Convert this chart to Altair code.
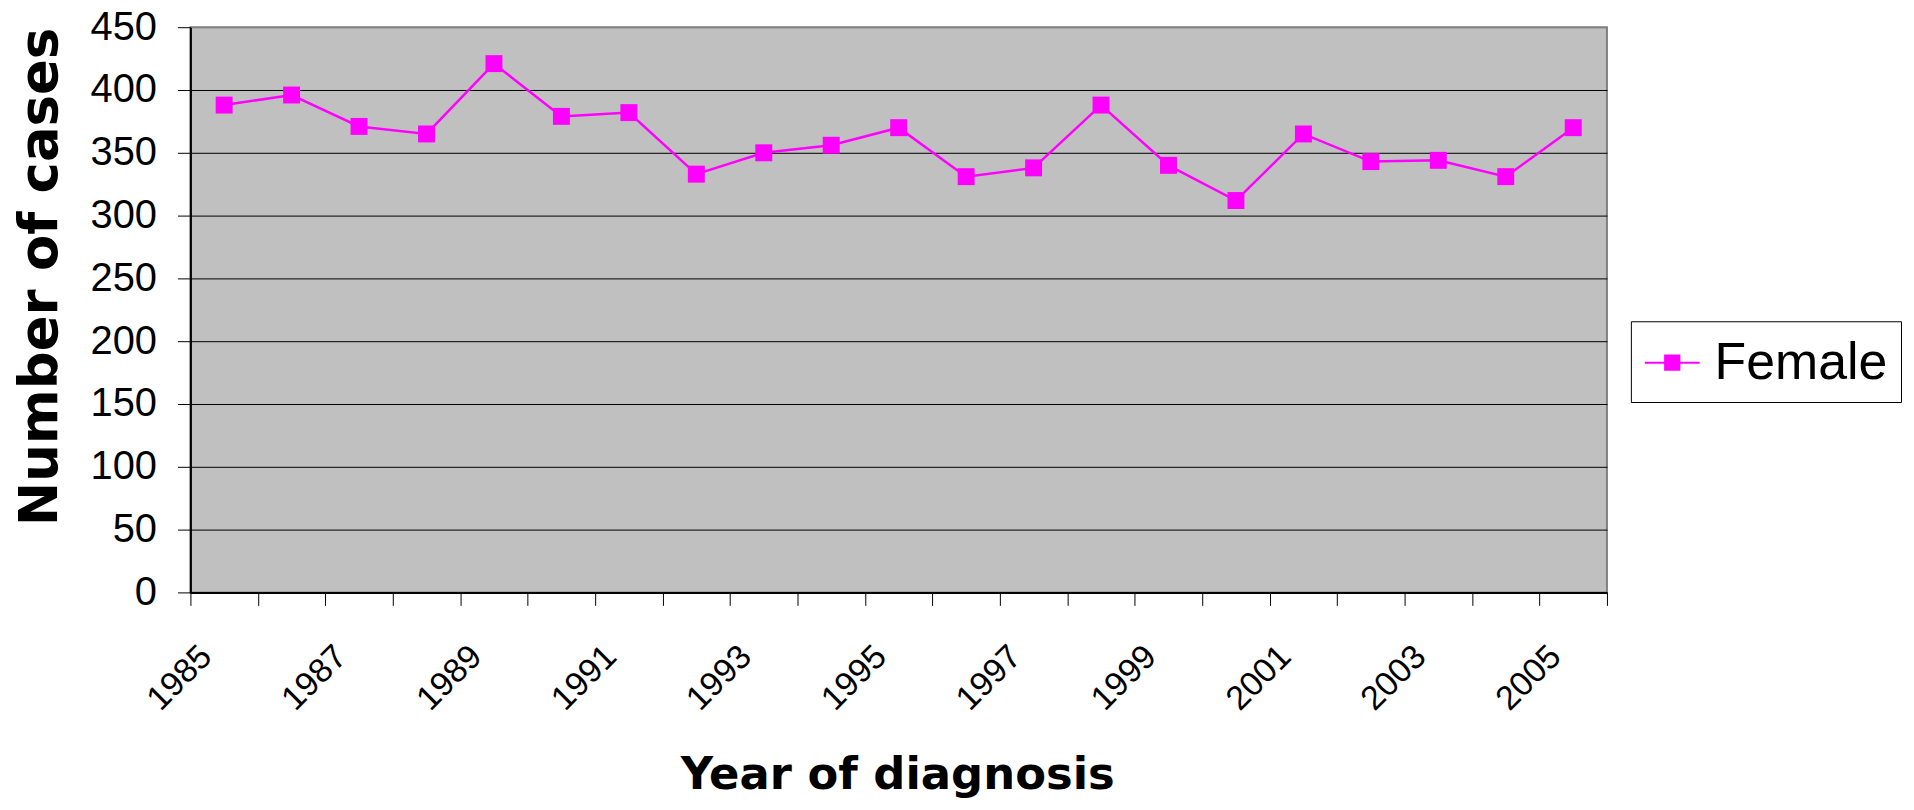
import altair as alt
import pandas as pd

years = [str(y) for y in range(1985, 2006)]
cases = [388, 396, 371, 365, 421, 379, 382, 333, 350, 356, 370,
         331, 338, 388, 340, 312, 365, 343, 344, 331, 370]
series = ["Female"] * len(years)
y_ticks = list(range(0, 451, 50))

df = pd.DataFrame({"year": years, "cases": cases, "series": series})

MAGENTA = "#FF00FF"
legend_path = "M-1,0L1,0M-0.26,-0.26L0.26,-0.26L0.26,0.26L-0.26,0.26Z"

x_enc = alt.X(
    "year:O",
    sort=years,
    scale=alt.Scale(type="band", paddingInner=0, paddingOuter=0),
    axis=alt.Axis(
        title="Year of diagnosis",
        labelAngle=-45,
        labelAlign="right",
        labelBaseline="alphabetic",
        labelOffset=-11,
        labelPadding=53,
        labelFontSize=34,
        labelFont="Liberation Sans",
        labelColor="black",
        labelExpr="parseInt(datum.value) % 2 == 1 ? datum.label : ''",
        labelOverlap=False,
        tickBand="extent",
        tickSize=13,
        tickColor="#000000",
        tickWidth=1,
        domainColor="#000000",
        domainWidth=2,
        grid=False,
        titleFont="DejaVu Sans",
        titleFontSize=45,
        titleFontWeight="bold",
        titleColor="black",
        titleX=709,
        titleY=197,
        titleAlign="center",
        titleBaseline="alphabetic",
    ),
)

y_enc = alt.Y(
    "cases:Q",
    scale=alt.Scale(domain=[0, 450], nice=False, zero=True),
    axis=alt.Axis(
        title="Number of cases",
        values=y_ticks,
        labelFontSize=40,
        labelFont="Liberation Sans",
        labelColor="black",
        labelPadding=21,
        labelBaseline="middle",
        tickSize=13,
        tickColor="#000000",
        domainColor="#000000",
        domainWidth=2,
        grid=True,
        gridColor={"condition": {"test": "datum.value === 450", "value": "#808080"}, "value": "#000000"},
        gridWidth=1,
        titleFont="DejaVu Sans",
        titleFontSize=53,
        titleFontWeight="bold",
        titleColor="black",
        titleAngle=270,
        titleX=-134,
        titleY=250,
        titleAlign="center",
        titleBaseline="alphabetic",
    ),
)

color_enc = alt.Color(
    "series:N",
    scale=alt.Scale(range=[MAGENTA]),
    legend=alt.Legend(
        title=None,
        orient="none",
        legendX=1445,
        legendY=295,
        symbolType=legend_path,
        symbolSize=3025,
        symbolStrokeWidth=2,
        symbolFillColor=MAGENTA,
        symbolStrokeColor=MAGENTA,
        symbolOpacity=1,
        labelFontSize=52,
        labelFont="Liberation Sans",
        labelColor="black",
        labelLimit=500,
        labelOffset=14,
        padding=13,
        strokeColor="#000000",
        fillColor="white",
    ),
)

base = alt.Chart(df).encode(x=x_enc, y=y_enc, color=color_enc)

line = base.mark_line(strokeWidth=2.5)
points = base.mark_point(shape="square", filled=True, size=289, opacity=1)

chart = (
    alt.layer(line, points)
    .properties(
        width=1421,
        height=567,
        background="white",
        autosize=alt.AutoSizeParams(type="none"),
        padding={"left": 183, "top": 18, "right": 300, "bottom": 207},
    )
    .configure_view(fill="#C0C0C0", stroke="#808080", strokeWidth=2)
)

chart.save("out.html", embed_options={"renderer": "svg", "actions": False})
